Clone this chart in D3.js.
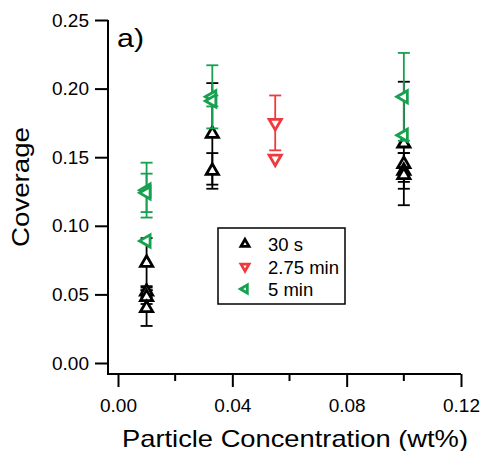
<!DOCTYPE html>
<html>
<head>
<meta charset="utf-8">
<script src="https://cdn.jsdelivr.net/npm/d3@7"></script>
<style>
  body { margin: 0; background: #fff; }
  text { font-family: "Liberation Sans", Arial, Helvetica, sans-serif; fill: #000; }
</style>
</head>
<body>
<div id="chart"></div>
<script>
// data: [concentration, coverage, error]
var series30s = [
  [0.01, 0.073, 0.018],
  [0.01, 0.052, 0.004],
  [0.01, 0.048, 0.005],
  [0.01, 0.040, 0.013],
  [0.033, 0.167, 0.037],
  [0.033, 0.140, 0.013],
  [0.1, 0.160, 0.045],
  [0.1, 0.145, 0.008],
  [0.1, 0.140, 0.013],
  [0.1, 0.137, 0.005]
];
var series275 = [
  [0.055, 0.175, 0.020],
  [0.055, 0.149, 0.0]
];
var series5 = [
  [0.01, 0.126, 0.020],
  [0.01, 0.124, 0.014],
  [0.01, 0.089, 0.0],
  [0.033, 0.194, 0.023],
  [0.033, 0.191, 0.004],
  [0.1, 0.194, 0.032],
  [0.1, 0.166, 0.0]
];
var seriesNames = ["30 s", "2.75 min", "5 min"];
var seriesColors = ["#000000", "#ee3a3e", "#17a04f"];
var seriesRotate = [0, 180, -90];   // up, down, left triangles
var xTicks = [0, 0.04, 0.08, 0.12];
var xMinor = [0.02, 0.06, 0.10];
var yTicks = [0, 0.05, 0.10, 0.15, 0.20, 0.25];

var width = 481, height = 451;

var svg = d3.select("#chart")
            .append("svg")
            .attr("width", width)
            .attr("height", height);

var x = d3.scaleLinear().domain([0, 0.12]).range([118, 461]);
var y = d3.scaleLinear().domain([0, 0.25]).range([363, 20]);

// y axis, offset left of the plot
var yAxis = d3.axisLeft(y)
            .tickValues(yTicks)
            .tickFormat(d3.format(".2f"))
            .tickSize(13)
            .tickPadding(6);
var gy = svg.append("g")
            .attr("transform", "translate(108,0)")
            .call(yAxis);
gy.select(".domain").remove();
gy.append("line")
  .attr("x1", 0).attr("x2", 0)
  .attr("y1", y(0.25)).attr("y2", 375)
  .attr("stroke", "#000").attr("stroke-width", 2);

// x axis, offset below the plot
var xAxis = d3.axisBottom(x)
            .tickValues(xTicks)
            .tickFormat(d3.format(".2f"))
            .tickSize(13)
            .tickPadding(12);
var gx = svg.append("g")
            .attr("transform", "translate(0,374)")
            .call(xAxis);
gx.select(".domain").remove();
gx.append("line")
  .attr("x1", 107).attr("x2", x(0.12))
  .attr("y1", 0).attr("y2", 0)
  .attr("stroke", "#000").attr("stroke-width", 2);
gx.selectAll(null)
  .data(xMinor)
  .enter()
  .append("line")
  .attr("x1", d => x(d)).attr("x2", d => x(d))
  .attr("y1", 0).attr("y2", 7)
  .attr("stroke", "#000").attr("stroke-width", 2);

svg.selectAll(".tick line").attr("stroke", "#000").attr("stroke-width", 2);
svg.selectAll(".tick text")
   .style("font-size", "19px")
   .style("font-family", "'Liberation Sans', Arial, sans-serif");

// titles (glyphs stretched a bit to match the wide original lettering)
svg.append("text")
   .attr("x", 295).attr("y", 447)
   .attr("text-anchor", "middle")
   .attr("textLength", 346)
   .attr("lengthAdjust", "spacingAndGlyphs")
   .style("font-size", "24px")
   .text("Particle Concentration (wt%)");
svg.append("text")
   .attr("transform", "translate(29,187) rotate(-90)")
   .attr("text-anchor", "middle")
   .attr("textLength", 120)
   .attr("lengthAdjust", "spacingAndGlyphs")
   .style("font-size", "24px")
   .text("Coverage");
svg.append("text")
   .attr("x", 117).attr("y", 47)
   .attr("textLength", 27)
   .attr("lengthAdjust", "spacingAndGlyphs")
   .style("font-size", "25px")
   .text("a)");

// error bars and markers
var allSeries = [series30s, series275, series5];
var capHalf = 6;
var tri = d3.symbol().type(d3.symbolTriangle).size(64);

allSeries.forEach(function(data, i) {
    var col = seriesColors[i];
    var g = svg.append("g").attr("class", "series");
    var eb = g.selectAll(null)
              .data(data.filter(d => d[2] > 0))
              .enter()
              .append("g");
    eb.append("line")
      .attr("x1", d => x(d[0])).attr("x2", d => x(d[0]))
      .attr("y1", d => y(d[1] - d[2])).attr("y2", d => y(d[1] + d[2]))
      .attr("stroke", col).attr("stroke-width", 1.8);
    [-1, 1].forEach(function(s) {
        eb.append("line")
          .attr("x1", d => x(d[0]) - capHalf).attr("x2", d => x(d[0]) + capHalf)
          .attr("y1", d => y(d[1] + s * d[2])).attr("y2", d => y(d[1] + s * d[2]))
          .attr("stroke", col).attr("stroke-width", 1.8);
    });
    g.selectAll(null)
     .data(data)
     .enter()
     .append("path")
     .attr("d", tri)
     .attr("transform", d => "translate(" + x(d[0]) + "," + y(d[1]) + ") rotate(" + seriesRotate[i] + ")")
     .attr("fill", "#fff")
     .attr("stroke", col)
     .attr("stroke-width", 2.8);
});

// legend
var legend = svg.append("g").attr("transform", "translate(218,228)");
legend.append("rect")
      .attr("width", 127).attr("height", 76)
      .attr("fill", "#fff")
      .attr("stroke", "#000").attr("stroke-width", 1.5);
var smallTri = d3.symbol().type(d3.symbolTriangle).size(28);
var rows = legend.selectAll(null)
                 .data(seriesNames)
                 .enter()
                 .append("g")
                 .attr("transform", (d, i) => "translate(0," + (16 + i * 22.5) + ")");
rows.append("path")
    .attr("d", smallTri)
    .attr("transform", (d, i) => "translate(27,0) rotate(" + seriesRotate[i] + ")")
    .attr("fill", "#fff")
    .attr("stroke", (d, i) => seriesColors[i])
    .attr("stroke-width", 2.8);
rows.append("text")
    .attr("x", 50).attr("y", 7)
    .style("font-size", "18.5px")
    .text(d => d);
</script>
</body>
</html>
